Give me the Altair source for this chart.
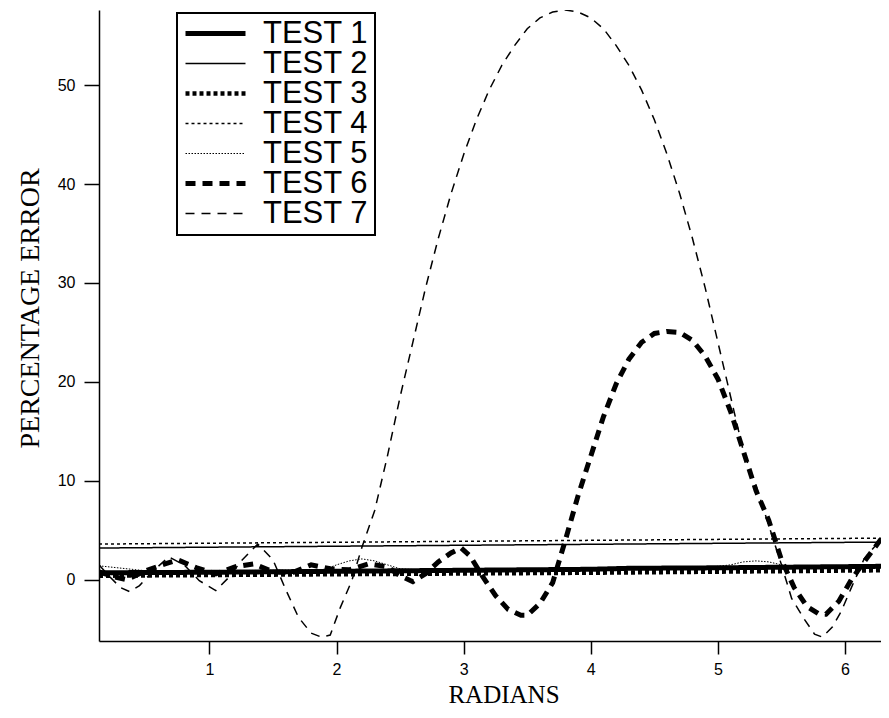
import altair as alt
import pandas as pd

series_names = ["TEST 1", "TEST 2", "TEST 3", "TEST 4", "TEST 5", "TEST 6", "TEST 7"]

t1_x = [0.131, 1.0, 2.0, 3.0, 4.0, 4.3, 5.0, 6.283]
t1_y = [0.7, 0.75, 0.85, 0.95, 1.05, 1.15, 1.2, 1.35]

t2_x = [0.131, 6.283]
t2_y = [3.2, 3.8]

t3_x = [0.131, 2.0, 4.0, 6.283]
t3_y = [0.4, 0.55, 0.7, 0.95]

t4_x = [0.131, 6.283]
t4_y = [3.6, 4.2]

t5_x = [0.131, 0.5, 1.0, 1.5, 1.9, 2.0, 2.1, 2.2, 2.3, 2.4, 2.5, 2.7, 3.0, 4.0, 4.9,
        5.1, 5.2, 5.3, 5.4, 5.5, 5.6, 5.8, 6.283]
t5_y = [1.4, 0.9, 0.9, 0.95, 1.0, 1.5, 1.9, 2.1, 1.9, 1.5, 1.1, 0.95, 1.0, 1.1, 1.2,
        1.5, 1.8, 1.9, 1.8, 1.5, 1.3, 1.3, 1.4]

t6_x = [0.131, 0.25, 0.35, 0.5, 0.65, 0.75, 0.9, 1.05, 1.2, 1.35, 1.5, 1.65, 1.8, 1.95,
        2.1, 2.25, 2.4, 2.5, 2.6, 2.7, 2.8, 2.9, 2.98, 3.05, 3.15, 3.25, 3.35, 3.45,
        3.5, 3.6, 3.7, 3.8, 3.9, 4.0, 4.1, 4.2, 4.3, 4.4, 4.5, 4.6, 4.7, 4.8, 4.9,
        5.0, 5.1, 5.2, 5.3, 5.4, 5.5, 5.6, 5.7, 5.8, 5.85, 5.95, 6.05, 6.15, 6.283]
t6_y = [0.8, 0.3, 0.0, 0.9, 1.6, 2.0, 1.2, 0.6, 1.3, 1.6, 0.8, 0.7, 1.5, 1.1,
        1.0, 1.6, 1.3, 0.4, -0.2, 0.6, 1.8, 2.7, 3.2, 2.4, 0.3, -1.6, -3.0, -3.6,
        -3.6, -2.4, -0.3, 4.0, 8.5, 12.5, 16.5, 19.8, 22.3, 24.0, 24.9, 25.1, 25.0, 24.2, 22.6,
        20.3, 17.0, 13.0, 9.0, 6.0, 2.0, -0.8, -2.7, -3.5, -3.5, -2.2, 0.0, 1.8, 4.1]

t7_x = [0.131, 0.2, 0.3, 0.37, 0.45, 0.55, 0.68, 0.8, 0.92, 1.05, 1.15, 1.25, 1.38, 1.5,
        1.6, 1.7, 1.8, 1.88, 1.95, 2.03, 2.12, 2.2, 2.3, 2.4, 2.5, 2.6, 2.7, 2.8, 2.9,
        3.0, 3.1, 3.2, 3.3, 3.4, 3.5, 3.6, 3.7, 3.8, 3.9, 4.0, 4.1, 4.2, 4.3, 4.4, 4.5,
        4.6, 4.7, 4.8, 4.9, 5.0, 5.1, 5.2, 5.3, 5.4, 5.5, 5.58, 5.68, 5.76, 5.82, 5.9,
        5.97, 6.05, 6.15, 6.283]
t7_y = [1.5, 0.5, -0.8, -1.2, -0.6, 0.8, 2.3, 1.5, -0.1, -1.1, 0.2, 1.9, 3.6, 2.0,
        -1.0, -3.8, -5.4, -5.8, -5.6, -2.8, -0.1, 3.3, 7.0, 12.5, 18.5, 24.0, 29.5, 34.5, 39.0,
        43.0, 46.5, 49.5, 52.0, 54.0, 55.7, 56.8, 57.4, 57.6, 57.4, 56.8, 55.7, 54.0, 52.0, 49.5, 46.5,
        43.0, 39.0, 34.5, 29.5, 24.0, 18.5, 13.0, 9.5, 5.5, 1.5, -1.9, -4.0, -5.5, -5.8, -4.8,
        -3.2, -0.8, 2.1, 4.1]

series_x = [t1_x, t2_x, t3_x, t4_x, t5_x, t6_x, t7_x]
series_y = [t1_y, t2_y, t3_y, t4_y, t5_y, t6_y, t7_y]

rows = []
for name, xs, ys in zip(series_names, series_x, series_y):
    for i, (xv, yv) in enumerate(zip(xs, ys)):
        rows.append({"series": name, "x": xv, "y": yv, "order": i})
df = pd.DataFrame(rows)

dash_range = [[1, 0], [1, 0], [4, 3], [3, 3], [1.5, 1.5], [10, 7], [9, 7]]
width_range = [5, 1.5, 4.5, 1.5, 1, 5, 1.5]

legend = alt.Legend(
    title=None, orient="none", legendX=78, legendY=3,
    symbolType="stroke", symbolSize=3600, symbolStrokeColor="black",
    labelFont="Liberation Sans", labelFontSize=31, labelColor="black",
    labelOffset=15, padding=6, strokeColor="black", rowPadding=-3,
    clipHeight=29, labelLimit=300,
)

chart = alt.Chart(df).mark_line(color="black", clip=True, strokeCap="butt").encode(
    x=alt.X("x:Q",
            scale=alt.Scale(domain=[0.131, 6.283], nice=False, zero=False),
            axis=alt.Axis(title="RADIANS", values=[1, 2, 3, 4, 5, 6], format="d",
                          tickSize=13, labelPadding=7,
                          titleX=404.5, titleY=61, titleAlign="center",
                          titleBaseline="alphabetic", titleFontSize=25)),
    y=alt.Y("y:Q",
            scale=alt.Scale(domain=[-6.2, 57.6], nice=False, zero=False),
            axis=alt.Axis(title="PERCENTAGE ERROR", values=[0, 10, 20, 30, 40, 50], format="d",
                          tickSize=15, labelPadding=9,
                          titleX=-61, titleY=298, titleAngle=270, titleAlign="center",
                          titleBaseline="alphabetic", titleFontSize=28)),
    strokeDash=alt.StrokeDash("series:N",
                              scale=alt.Scale(domain=series_names, range=dash_range),
                              legend=legend),
    strokeWidth=alt.StrokeWidth("series:N",
                                scale=alt.Scale(type="ordinal", domain=series_names, range=width_range),
                                legend=legend),
    order=alt.Order("order:Q"),
).properties(
    width=782, height=631,
    autosize=alt.AutoSizeParams(type="none"),
    padding={"left": 91, "top": 2, "right": 0, "bottom": 67},
).configure_view(stroke=None).configure_axis(
    grid=False, domainColor="black", domainWidth=1.5, tickColor="black", tickWidth=1.5,
    labelFont="Liberation Sans", labelFontSize=16, labelColor="black",
    titleFont="Liberation Serif", titleFontWeight="normal", titleColor="black",
).configure_legend(strokeWidth=2)

chart.save("out.html", embed_options={"renderer": "svg", "actions": False})
